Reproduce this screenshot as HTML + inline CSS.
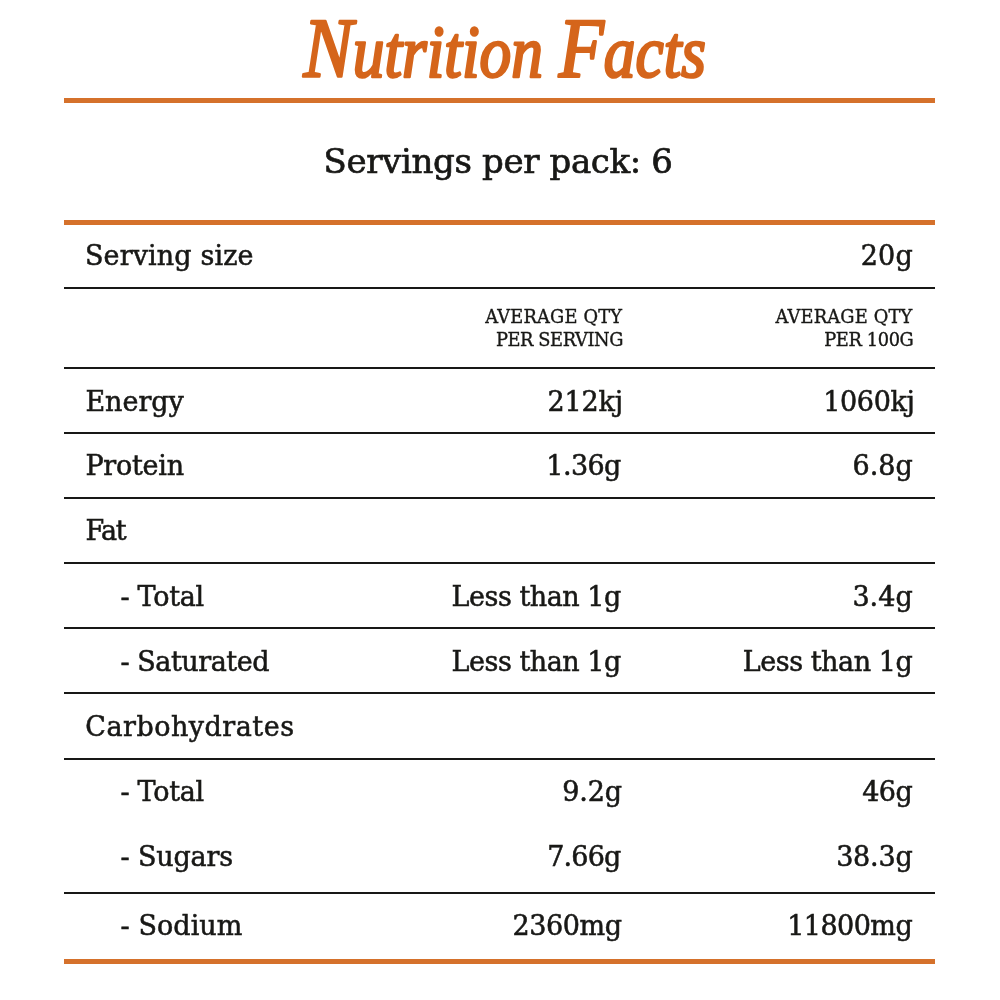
<!DOCTYPE html>
<html lang="en">
<head>
<meta charset="utf-8">
<title>Nutrition Facts</title>
<style>
html,body{margin:0;padding:0;background:#fff}
body{width:1000px;height:1000px;position:relative;overflow:hidden;font-family:"DejaVu Serif","Liberation Serif",serif;color:#181816}
h1{position:absolute;left:0;top:0;margin:0;width:1000px;height:97px;line-height:0;font-size:0}
h1 svg{display:block}
.rule{position:absolute;left:64px;width:871px;height:2.2px;background:#181816}
.rule.o{height:5px;background:#d5712b}
.servings,.row{position:absolute;left:0;width:1000px;margin:0}
.t{position:absolute;white-space:pre;line-height:1;font-weight:normal;-webkit-text-stroke:0.0205em #181816}
.lab,.val{font-size:27px}
.hd{font-size:17.8px}
.servings .t{font-size:34px}
</style>
</head>
<body>
<h1 id="title"><svg width="1000" height="97" viewBox="0 0 1000 97" role="img" aria-label="Nutrition Facts">
<text transform="translate(303.5,76.8) scale(0.96,1.11)" font-family="Liberation Serif, DejaVu Serif, serif" font-style="italic" font-weight="normal" font-size="66" fill="#d5651b" stroke="#d5651b" stroke-width="2.4" stroke-linejoin="round"><tspan font-size="77">N</tspan>utrition <tspan font-size="77">F</tspan>acts</text>
</svg></h1>
<div class="rule o" style="top:98px"></div>
<div class="rule o" style="top:220.2px"></div>
<div class="rule o" style="top:959.2px"></div>
<div class="rule" style="top:286.5px"></div>
<div class="rule" style="top:366.8px"></div>
<div class="rule" style="top:431.9px"></div>
<div class="rule" style="top:496.9px"></div>
<div class="rule" style="top:562.0px"></div>
<div class="rule" style="top:627.0px"></div>
<div class="rule" style="top:692.1px"></div>
<div class="rule" style="top:757.5px"></div>
<div class="rule" style="top:891.8px"></div>
<p class="servings" style="top:103px;height:117px">
<span class="t" style="left:323.53px;top:40.74px;letter-spacing:-0.357px">Servings per pack: 6</span>
</p>
<div class="row" style="top:225px;height:62px">
<span class="t lab" style="left:84.90px;top:17.46px;letter-spacing:0.131px">Serving size</span>
<span class="t val" style="right:87.13px;top:17.46px;letter-spacing:0.184px">20g</span>
</div>
<div class="row head" style="top:288px;height:79px">
<span class="t hd" style="right:377.90px;top:19.94px;letter-spacing:0.168px">AVERAGE QTY</span>
<span class="t hd" style="right:376.92px;top:42.54px;letter-spacing:-0.394px">PER SERVING</span>
<span class="t hd" style="right:87.52px;top:19.94px;letter-spacing:0.187px">AVERAGE QTY</span>
<span class="t hd" style="right:86.56px;top:42.54px;letter-spacing:-0.369px">PER 100G</span>
</div>
<div class="row" style="top:368px;height:64px">
<span class="t lab" style="left:85.38px;top:19.76px;letter-spacing:-0.018px">Energy</span>
<span class="t val" style="right:376.93px;top:19.76px;letter-spacing:-0.121px">212kj</span>
<span class="t val" style="right:85.38px;top:19.76px;letter-spacing:-0.329px">1060kj</span>
</div>
<div class="row" style="top:433px;height:64px">
<span class="t lab" style="left:85.38px;top:18.96px;letter-spacing:-0.244px">Protein</span>
<span class="t val" style="right:379.23px;top:18.96px;letter-spacing:-0.587px">1.36g</span>
<span class="t val" style="right:87.33px;top:18.96px;letter-spacing:-0.014px">6.8g</span>
</div>
<div class="row" style="top:498px;height:64px">
<span class="t lab" style="left:85.38px;top:19.36px;letter-spacing:-1.300px">Fat</span>
</div>
<div class="row" style="top:563px;height:64px">
<span class="t lab" style="left:120.59px;top:19.76px;letter-spacing:-0.330px">- Total</span>
<span class="t val" style="right:379.12px;top:19.76px;letter-spacing:-0.473px">Less than 1g</span>
<span class="t val" style="right:87.29px;top:19.76px;letter-spacing:0.028px">3.4g</span>
</div>
<div class="row" style="top:628px;height:64px">
<span class="t lab" style="left:120.59px;top:19.76px;letter-spacing:-0.471px">- Saturated</span>
<span class="t val" style="right:379.12px;top:19.76px;letter-spacing:-0.473px">Less than 1g</span>
<span class="t val" style="right:87.77px;top:19.76px;letter-spacing:-0.459px">Less than 1g</span>
</div>
<div class="row" style="top:693px;height:64px">
<span class="t lab" style="left:85.24px;top:19.76px;letter-spacing:0.495px">Carbohydrates</span>
</div>
<div class="row" style="top:759px;height:66px">
<span class="t lab" style="left:120.59px;top:19.46px;letter-spacing:-0.330px">- Total</span>
<span class="t val" style="right:378.17px;top:19.46px;letter-spacing:-0.132px">9.2g</span>
<span class="t val" style="right:87.92px;top:19.46px;letter-spacing:-0.605px">46g</span>
</div>
<div class="row" style="top:825px;height:67px">
<span class="t lab" style="left:120.59px;top:18.46px;letter-spacing:-0.170px">- Sugars</span>
<span class="t val" style="right:379.44px;top:18.46px;letter-spacing:-0.793px">7.66g</span>
<span class="t val" style="right:87.53px;top:18.46px;letter-spacing:-0.217px">38.3g</span>
</div>
<div class="row" style="top:893px;height:66px">
<span class="t lab" style="left:120.59px;top:19.36px;letter-spacing:0.067px">- Sodium</span>
<span class="t val" style="right:378.46px;top:19.36px;letter-spacing:-0.425px">2360mg</span>
<span class="t val" style="right:87.86px;top:19.36px;letter-spacing:-0.546px">11800mg</span>
</div>
</body>
</html>
